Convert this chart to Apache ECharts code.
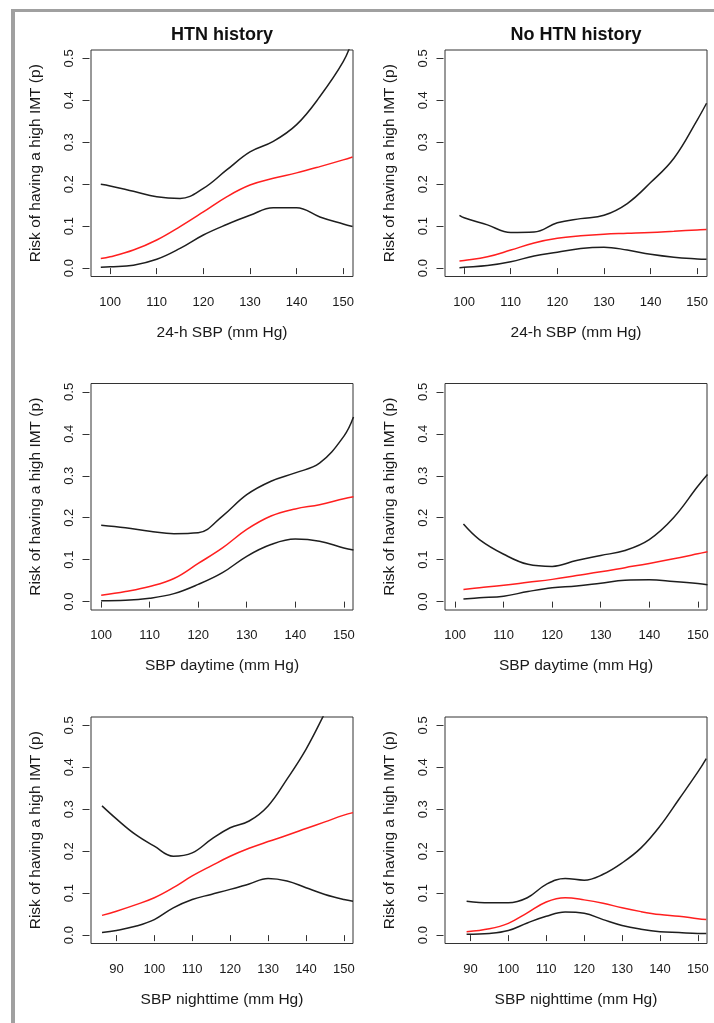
<!DOCTYPE html>
<html>
<head>
<meta charset="utf-8">
<script src="https://cdn.jsdelivr.net/npm/echarts@6/dist/echarts.min.js"></script>
<style>
html,body{margin:0;padding:0;background:#fff;}
#chart{width:714px;height:1023px;}
</style>
</head>
<body>
<div id="chart"></div>
<script>
// ---------- Data ----------
const colTitles = ['HTN history', 'No HTN history'];
const yAxisTitle = 'Risk of having a high IMT (p)';
const xTitles = ['24-h SBP (mm Hg)', 'SBP daytime (mm Hg)', 'SBP nighttime (mm Hg)'];
const yTicks = [0, 0.1, 0.2, 0.3, 0.4, 0.5];
const xTicksRow12 = [100, 110, 120, 130, 140, 150];
const xTicksRow3 = [90, 100, 110, 120, 130, 140, 150];

// Row 1 left: 24-h SBP, HTN history
const tl_x     = [98, 100, 105, 110, 115, 120, 125, 130, 135, 140, 145, 150, 152];
const tl_upper = [0.200, 0.196, 0.183, 0.170, 0.166, 0.190, 0.234, 0.277, 0.302, 0.342, 0.409, 0.492, 0.545];
const tl_fit   = [0.023, 0.027, 0.043, 0.067, 0.099, 0.134, 0.170, 0.198, 0.214, 0.227, 0.242, 0.258, 0.265];
const tl_lower = [0.002, 0.003, 0.007, 0.021, 0.047, 0.079, 0.104, 0.126, 0.144, 0.144, 0.122, 0.105, 0.099];

// Row 1 right: 24-h SBP, No HTN history
const tr_x     = [99, 100, 105, 110, 115, 120, 125, 130, 135, 140, 145, 150, 152];
const tr_upper = [0.126, 0.120, 0.103, 0.085, 0.086, 0.108, 0.118, 0.126, 0.154, 0.204, 0.262, 0.353, 0.393];
const tr_fit   = [0.017, 0.018, 0.027, 0.043, 0.060, 0.071, 0.077, 0.081, 0.083, 0.085, 0.088, 0.091, 0.092];
const tr_lower = [0.001, 0.002, 0.006, 0.015, 0.029, 0.038, 0.047, 0.050, 0.043, 0.033, 0.026, 0.022, 0.021];

// Row 2 left: SBP daytime, HTN history
const ml_x     = [100, 105, 110, 115, 120, 125, 130, 135, 140, 145, 150, 152];
const ml_upper = [0.182, 0.176, 0.168, 0.162, 0.164, 0.204, 0.255, 0.287, 0.307, 0.330, 0.394, 0.440];
const ml_fit   = [0.015, 0.024, 0.036, 0.055, 0.091, 0.128, 0.172, 0.204, 0.221, 0.231, 0.245, 0.250];
const ml_lower = [0.002, 0.003, 0.008, 0.019, 0.041, 0.069, 0.108, 0.136, 0.149, 0.144, 0.128, 0.123];

// Row 2 right: SBP daytime, No HTN history
const mr_x     = [101.7, 105, 110, 115, 120, 125, 130, 135, 140, 145, 150, 152];
const mr_upper = [0.185, 0.148, 0.113, 0.089, 0.084, 0.098, 0.110, 0.122, 0.148, 0.200, 0.275, 0.303];
const mr_fit   = [0.029, 0.033, 0.039, 0.046, 0.053, 0.062, 0.071, 0.081, 0.091, 0.102, 0.114, 0.119];
const mr_lower = [0.006, 0.009, 0.013, 0.024, 0.033, 0.037, 0.044, 0.051, 0.052, 0.048, 0.043, 0.040];

// Row 3 left: SBP nighttime, HTN history
const bl_x     = [86.2, 90, 95, 100, 105, 110, 115, 120, 125, 130, 135, 140, 145, 150, 152.4];
const bl_upper = [0.308, 0.277, 0.240, 0.212, 0.188, 0.196, 0.228, 0.256, 0.272, 0.308, 0.372, 0.443, 0.530, 0.620, 0.660];
const bl_fit   = [0.047, 0.057, 0.072, 0.089, 0.113, 0.141, 0.165, 0.188, 0.207, 0.223, 0.238, 0.254, 0.270, 0.286, 0.292];
const bl_lower = [0.006, 0.011, 0.021, 0.037, 0.065, 0.085, 0.097, 0.109, 0.122, 0.135, 0.129, 0.113, 0.097, 0.085, 0.081];

// Row 3 right: SBP nighttime, No HTN history
const br_x     = [89, 95, 100, 105, 110, 115, 120, 125, 130, 135, 140, 145, 150, 152.2];
const br_upper = [0.081, 0.077, 0.077, 0.089, 0.121, 0.135, 0.131, 0.145, 0.172, 0.208, 0.260, 0.324, 0.389, 0.421];
const br_fit   = [0.008, 0.015, 0.028, 0.053, 0.079, 0.089, 0.084, 0.076, 0.065, 0.056, 0.049, 0.045, 0.039, 0.037];
const br_lower = [0.002, 0.004, 0.011, 0.029, 0.045, 0.055, 0.052, 0.037, 0.023, 0.014, 0.008, 0.006, 0.004, 0.004];

// ---------- Layout / style ----------
const FONT = '"Liberation Sans", Arial, Helvetica, sans-serif';
const TXT = '#1a1a1a';
const LINE_BLACK = '#1e1e1e';
const LINE_RED = '#ff1f1f';
const colLeft = [91, 445];
const rowTop = [50, 383.5, 717];
const boxW = 262, boxH = 226.5;
const xRanges = [[95.9, 152.1], [97.9, 151.9], [83.3, 152.4]];

const panels = [
  {r: 0, c: 0, x: tl_x, up: tl_upper, fit: tl_fit, lo: tl_lower},
  {r: 0, c: 1, x: tr_x, up: tr_upper, fit: tr_fit, lo: tr_lower},
  {r: 1, c: 0, x: ml_x, up: ml_upper, fit: ml_fit, lo: ml_lower},
  {r: 1, c: 1, x: mr_x, up: mr_upper, fit: mr_fit, lo: mr_lower},
  {r: 2, c: 0, x: bl_x, up: bl_upper, fit: bl_fit, lo: bl_lower},
  {r: 2, c: 1, x: br_x, up: br_upper, fit: br_fit, lo: br_lower}
];

const zip = (xs, ys) => xs.map((v, i) => [v, ys[i]]);

const grid = [], xAxis = [], yAxis = [], series = [];
panels.forEach((p, i) => {
  grid.push({
    left: colLeft[p.c], top: rowTop[p.r], width: boxW, height: boxH,
    show: true, borderColor: '#333', borderWidth: 1, backgroundColor: 'transparent',
    containLabel: false, outerBoundsMode: 'none'
  });
  const xt = p.r === 2 ? xTicksRow3 : xTicksRow12;
  xAxis.push({
    type: 'value', gridIndex: i, min: xRanges[p.r][0], max: xRanges[p.r][1],
    position: 'bottom', offset: 2,
    axisLine: {show: false},
    axisTick: {show: true, length: 6, customValues: xt, lineStyle: {color: '#333', width: 1}},
    axisLabel: {show: true, customValues: xt, margin: 17, fontFamily: FONT, fontSize: 13, color: TXT},
    splitLine: {show: false},
    name: xTitles[p.r], nameLocation: 'middle', nameGap: 46,
    nameTextStyle: {fontFamily: FONT, fontSize: 15.5, color: TXT}
  });
  yAxis.push({
    type: 'value', gridIndex: i, min: -0.02, max: 0.52,
    position: 'left', offset: 1.5,
    axisLine: {show: false},
    axisTick: {show: true, length: 7, customValues: yTicks, lineStyle: {color: '#333', width: 1}},
    axisLabel: {show: true, customValues: yTicks, rotate: 90, margin: 14,
      formatter: v => v.toFixed(1), fontFamily: FONT, fontSize: 13, color: TXT},
    splitLine: {show: false},
    name: yAxisTitle, nameLocation: 'middle', nameGap: 46, nameRotate: 90,
    nameTextStyle: {fontFamily: FONT, fontSize: 15.5, color: TXT}
  });
  const mk = (ys, color) => ({
    type: 'line', xAxisIndex: i, yAxisIndex: i, data: zip(p.x, ys),
    showSymbol: false, symbol: 'none', smooth: 0.4, clip: true, silent: true,
    lineStyle: {color: color, width: 1.5}, animation: false
  });
  series.push(mk(p.up, LINE_BLACK), mk(p.lo, LINE_BLACK), mk(p.fit, LINE_RED));
});

const title = colTitles.map((t, c) => ({
  text: t, left: colLeft[c] + boxW / 2, top: 26, textAlign: 'center', padding: 0,
  textStyle: {fontFamily: FONT, fontSize: 18, fontWeight: 'bold', color: '#111'}
}));

const graphic = [
  {type: 'rect', left: 11, top: 9, shape: {width: 703, height: 3}, style: {fill: '#a0a0a0'}, silent: true},
  {type: 'rect', left: 11, top: 9, shape: {width: 4, height: 1014}, style: {fill: '#a0a0a0'}, silent: true}
];

const chart = echarts.init(document.getElementById('chart'), null, {renderer: 'canvas'});
chart.setOption({
  animation: false,
  backgroundColor: '#ffffff',
  title, grid, xAxis, yAxis, series, graphic
});
</script>
</body>
</html>
